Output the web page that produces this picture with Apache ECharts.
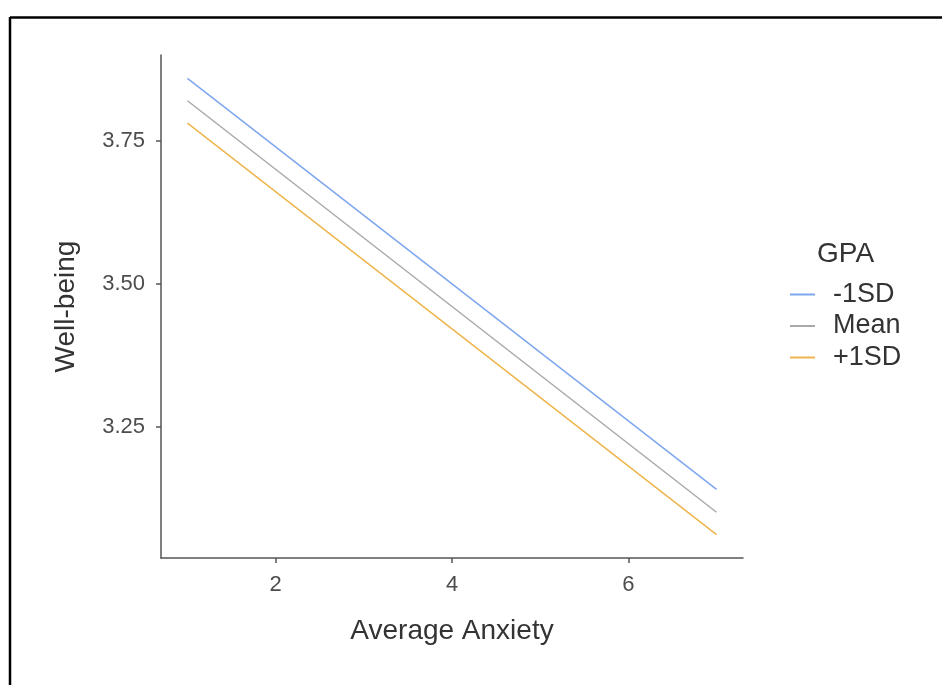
<!DOCTYPE html>
<html>
<head>
<meta charset="utf-8">
<script src="https://cdn.jsdelivr.net/npm/echarts@6/dist/echarts.min.js"></script>
<style>
  html, body { margin: 0; padding: 0; background: #fff; }
  #chart { width: 942px; height: 685px; }
</style>
</head>
<body>
<div id="chart"></div>
<script>
// data
var anxiety = [1, 7];
var lowGpa = [3.859, 3.141];   // -1SD
var meanGpa = [3.820, 3.101];  // Mean
var highGpa = [3.781, 3.062];  // +1SD
var groupNames = ['-1SD', 'Mean', '+1SD'];
var xTicks = [2, 4, 6];
var yTicks = [3.25, 3.5, 3.75];

function pairs(ys) {
    return anxiety.map(function (x, i) { return [x, ys[i]]; });
}

var font = '"Liberation Sans", Arial, sans-serif';
var axisColor = '#555555';
var colors = ['#7ea6ee', '#a9a9a9', '#efb54f'];

var chart = echarts.init(document.getElementById('chart'));
var option = {
    animation: false,
    textStyle: { fontFamily: font },
    grid: { left: 161, right: 199, top: 55, bottom: 127 },
    graphic: [
        // frame of the screenshot: only top and left edges show
        { type: 'line', shape: { x1: 10, y1: 17.5, x2: 942, y2: 17.5 }, style: { stroke: '#000', lineWidth: 2.5 } },
        { type: 'line', shape: { x1: 10, y1: 17, x2: 10, y2: 685 }, style: { stroke: '#000', lineWidth: 2.5 } },
        { type: 'text', left: 817, top: 240, style: { text: 'GPA', fontSize: 28, fill: '#333', fontFamily: font } }
    ],
    legend: {
        orient: 'vertical',
        left: 790,
        top: 281,
        padding: 0,
        itemGap: 4.5,
        itemWidth: 25,
        itemHeight: 2,
        icon: 'rect',
        data: groupNames,
        textStyle: { fontSize: 27, color: '#333', padding: [0, 0, 0, 13] }
    },
    xAxis: {
        type: 'value',
        min: 0.7,
        max: 7.3,
        name: 'Average Anxiety',
        nameLocation: 'middle',
        nameGap: 59,
        nameTextStyle: { fontSize: 28, color: '#333' },
        axisLine: { lineStyle: { color: axisColor, width: 1.5 } },
        axisTick: { customValues: xTicks, length: 5, lineStyle: { color: axisColor, width: 1.5 } },
        axisLabel: { customValues: xTicks, fontSize: 22, color: '#4d4d4d', margin: 16 },
        splitLine: { show: false }
    },
    yAxis: {
        type: 'value',
        min: 3.021,
        max: 3.900,
        name: 'Well-being',
        nameLocation: 'middle',
        nameGap: 81,
        nameTextStyle: { fontSize: 28, color: '#333' },
        axisLine: { show: true, lineStyle: { color: axisColor, width: 1.5 } },
        axisTick: { show: true, customValues: yTicks, length: 5, lineStyle: { color: axisColor, width: 1.5 } },
        axisLabel: {
            customValues: yTicks, fontSize: 22, color: '#4d4d4d', margin: 16,
            formatter: function (v) { return v.toFixed(2); }
        },
        splitLine: { show: false }
    },
    series: [
        { name: groupNames[0], type: 'line', data: pairs(lowGpa), symbol: 'none', lineStyle: { width: 1.5 }, color: colors[0] },
        { name: groupNames[1], type: 'line', data: pairs(meanGpa), symbol: 'none', lineStyle: { width: 1.5 }, color: colors[1] },
        { name: groupNames[2], type: 'line', data: pairs(highGpa), symbol: 'none', lineStyle: { width: 1.5 }, color: colors[2] }
    ]
};
chart.setOption(option);
</script>
</body>
</html>
